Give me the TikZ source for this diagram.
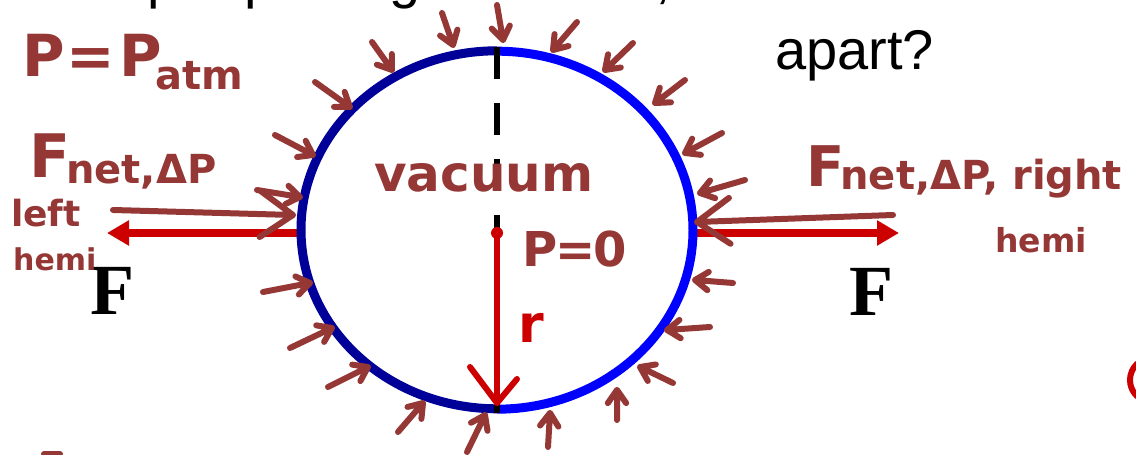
\documentclass[tikz,border=0pt]{standalone}
\usepackage{fontspec}
\setmainfont{Liberation Serif}
\newfontfamily\arialf{Liberation Sans}
\newfontfamily\handf{DejaVu Sans}
\usetikzlibrary{calc,arrows.meta,shapes.geometric}
\definecolor{hand}{RGB}{149,55,53}
\definecolor{darkblu}{RGB}{0,0,153}
\definecolor{brightblu}{RGB}{0,0,255}
\definecolor{fred}{RGB}{204,0,0}
\tikzset{
  handline/.style={draw=hand, line width=6pt, line cap=round, line join=round},
  handtext/.style={text=hand, inner sep=0pt, anchor=base west},
  forcearrow/.style={draw=fred, line width=8pt, -{Triangle[length=22pt,width=24pt]}},
  hemiL/.style={draw=darkblu, line width=9pt},
  hemiR/.style={draw=brightblu, line width=9pt},
  toptext/.style={inner sep=0pt, anchor=base west, font=\arialf\fontsize{56}{56}\selectfont},
}
\newcommand\handarrow[3]{\draw[handline] (#1) -- (#2) ($(#2)!#3!35:(#1)$) -- (#2) -- ($(#2)!#3!-35:(#1)$);}
\begin{document}
\begin{tikzpicture}[x=1pt,y=1pt]
\useasboundingbox (0,0) rectangle (1136,455);
\fill[white] (0,0) rectangle (1136,455);

% cut-off first text line (only descenders visible)
\node[toptext] (t1) at (147,457) {p};
\node[toptext] (t2) at (244,457) {p};
\node[toptext] (t3) at (389,457) {g};
\node[toptext] (t4) at (655,457) {,};
\node[toptext] (apart) at (775,385) {apart?};

% sphere
\node[ellipse, minimum width=392pt, minimum height=358pt, inner sep=0pt, draw=none] (ball) at (497,225) {};
\coordinate (ctr) at (497,222);
\coordinate (lf) at (107,222);
\coordinate (rf) at (899,222);
\draw[forcearrow] (ball.west |- ctr) -- (lf);
\draw[forcearrow] (ball.east |- ctr) -- (rf);
\draw[hemiL] (ball.north) arc[start angle=90, end angle=270, x radius=196pt, y radius=179pt];
\draw[hemiR] (ball.south) arc[start angle=-90, end angle=90, x radius=196pt, y radius=179pt];
\draw[black, line width=6pt, dash pattern=on 32pt off 24pt] ([yshift=4pt]ball.north) -- ([yshift=-4pt]ball.south);

\node[font=\bfseries\fontsize{72}{72}\selectfont, inner sep=0pt] (fl) at (112,164) {F};
\node[font=\bfseries\fontsize{72}{72}\selectfont, inner sep=0pt] (fr) at (871,163) {F};

% radius
\coordinate (rtip) at (497,52);
\draw[fred, line width=6pt, line cap=round] (ctr) -- (rtip);
\draw[fred, line width=6pt, line cap=round, line join=round] (470,88) -- (rtip) -- (517,76);
\fill[fred] (ctr) circle (6pt);
\node[handtext, text=fred, font=\handf\bfseries\fontsize{52}{52}\selectfont] (rlab) at (518,112) {r};

% handwritten labels
\node[handtext, font=\handf\bfseries\fontsize{58}{58}\selectfont] (patm) at (22,378) {P\kern2pt=\kern4pt P\kern-6pt\raisebox{-13pt}{\fontsize{40}{40}\selectfont atm}};
\node[handtext, font=\handf\bfseries\fontsize{60}{60}\selectfont] (fnl) at (29,277) {F\kern-4pt\raisebox{-6pt}{\fontsize{40}{40}\selectfont net,ΔP}};
\node[handtext, font=\handf\bfseries\fontsize{36}{36}\selectfont] (left) at (11,228) {left};
\node[handtext, font=\handf\bfseries\fontsize{30}{30}\selectfont] (hemil) at (13,184) {hemi};
\node[handtext, font=\handf\bfseries\fontsize{56}{56}\selectfont] (fnr) at (806,268) {F\kern-4pt\raisebox{-3pt}{\fontsize{40}{40}\selectfont net,ΔP, right}};
\node[handtext, font=\handf\bfseries\fontsize{33}{33}\selectfont] (hemir) at (995,202) {hemi};
\node[handtext, font=\handf\bfseries\fontsize{50}{50}\selectfont] (vac) at (374,263) {vacuum};
\node[handtext, font=\handf\bfseries\fontsize{48}{48}\selectfont] (p0) at (522,188) {P\kern-2pt=\kern-2pt0};

% big hand arrows
\handarrow{113,245}{293,240}{40pt}
\handarrow{893,240}{697,233}{40pt}

% small pressure arrows
\handarrow{442,442}{453,410}{16pt}
\handarrow{372,413}{392,385}{16pt}
\handarrow{315,373}{350,348}{16pt}
\handarrow{275,320}{313,300}{16pt}
\handarrow{257,265}{300,258}{16pt}
\handarrow{497,450}{503,415}{16pt}
\handarrow{577,433}{553,405}{16pt}
\handarrow{633,412}{605,385}{16pt}
\handarrow{685,375}{655,352}{16pt}
\handarrow{722,322}{685,302}{16pt}
\handarrow{745,275}{700,262}{16pt}
\handarrow{733,172}{695,175}{16pt}
\handarrow{710,128}{667,125}{16pt}
\handarrow{673,72}{640,88}{16pt}
\handarrow{617,35}{617,65}{16pt}
\handarrow{548,8}{550,42}{16pt}
\handarrow{263,163}{310,172}{16pt}
\handarrow{290,107}{332,127}{16pt}
\handarrow{328,68}{368,88}{16pt}
\handarrow{398,23}{423,52}{16pt}
\handarrow{467,3}{485,40}{16pt}

% cut-off marks at the edges
\draw[fred, line width=6pt] (1152,75) ++(100:22) arc[start angle=100, end angle=260, radius=22pt];
\draw[handline] (44,1) -- (60,1);
\end{tikzpicture}
\end{document}
